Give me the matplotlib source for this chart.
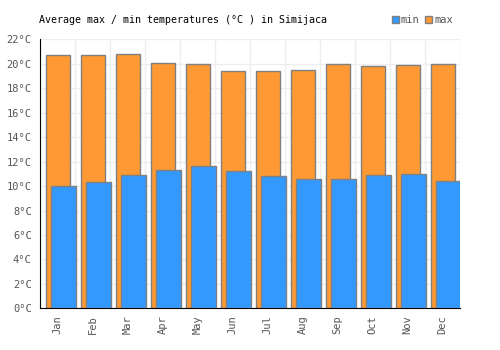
import numpy as np
import matplotlib.pyplot as plt

months = ['Jan', 'Feb', 'Mar', 'Apr', 'May', 'Jun', 'Jul', 'Aug', 'Sep', 'Oct', 'Nov', 'Dec']
t_max = [20.7, 20.7, 20.8, 20.1, 20.0, 19.4, 19.4, 19.5, 20.0, 19.8, 19.9, 20.0]
t_min = [10.0, 10.3, 10.9, 11.3, 11.6, 11.2, 10.8, 10.55, 10.55, 10.9, 11.0, 10.4]
y_ticks = np.arange(0, 23, 2)

plt.rcParams['font.family'] = 'DejaVu Sans Mono'

fig = plt.figure(figsize=(5, 3.5), dpi=100)
ax = fig.add_axes([0.08, 0.119, 0.84, 0.7687])

x = np.arange(len(months))
ax.bar(x + 0.014, t_max, width=0.67, color='#ff9933', edgecolor='#808080', linewidth=1, label='max', zorder=2)
ax.bar(x + 0.167, t_min, width=0.705, color='#3399ff', edgecolor='#808080', linewidth=1, label='min', zorder=3)

ax.set_xlim(-0.5, 11.5)
ax.set_ylim(0, 22)
ax.set_yticks(y_ticks)
ax.set_yticklabels(['%d°C' % v for v in y_ticks])
ax.set_xticks(x)
ax.set_xticklabels(months, rotation=90)
ax.set_xticks(np.arange(-0.5, 12, 1), minor=True)
ax.tick_params(which='both', length=0, labelsize=7.5, labelcolor='#555555')
ax.tick_params(axis='y', pad=6)
ax.tick_params(axis='x', pad=5)
ax.grid(True, axis='y', color='#eeeeee', linewidth=1, zorder=0)
ax.grid(True, axis='x', which='minor', color='#eeeeee', linewidth=1, zorder=0)
ax.set_axisbelow(True)
for s in ['top', 'right']:
    ax.spines[s].set_visible(False)
ax.spines['left'].set_color('black')
ax.spines['bottom'].set_color('black')

fig.text(0.078, 0.942, 'Average max / min temperatures (°C ) in Simijaca', fontsize=7.2, color='black', va='center')

h, l = ax.get_legend_handles_labels()
leg = fig.legend(h[::-1], l[::-1], loc='center right', bbox_to_anchor=(0.906, 0.942), ncol=2, frameon=False,
                 fontsize=7.5, handlelength=0.7, handleheight=0.7, handletextpad=0.2, columnspacing=0.5,
                 borderpad=0, borderaxespad=0)
for t in leg.get_texts():
    t.set_color('#555555')

fig.savefig('out.png', dpi=100)
